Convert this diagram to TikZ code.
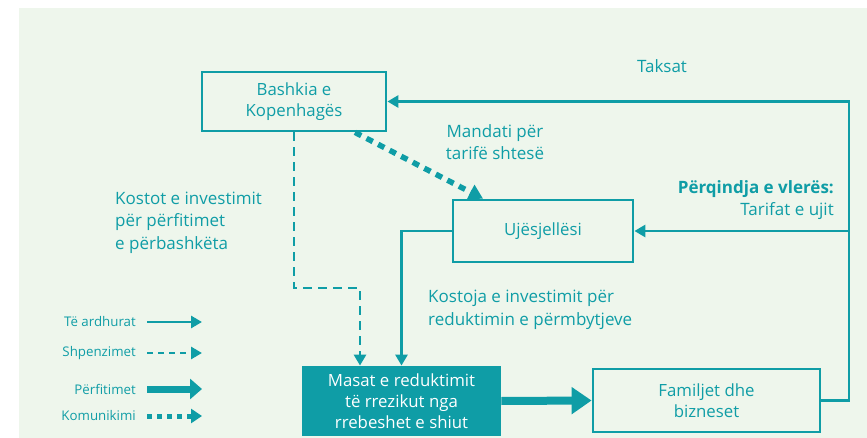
\documentclass[tikz,border=0pt]{standalone}
\usepackage{fontspec}
\setmainfont{Open Sans}
\usetikzlibrary{arrows.meta}
\definecolor{teal1}{HTML}{0F9DA6}
\definecolor{bgc}{HTML}{EEF6EC}
\tikzset{
  box/.style={draw=teal1, line width=2.8pt, rectangle, align=center, text=teal1, font=\fontsize{16.8}{21}\selectfont, inner sep=0pt},
  lbl/.style={text=teal1, font=\fontsize{17}{22.5}\selectfont, inner sep=0pt},
  leg/.style={text=teal1, font=\fontsize{13.3}{14}\selectfont, inner sep=0pt, anchor=east},
  solidarr/.style={draw=teal1, line width=2.8pt, -{Triangle[length=11pt,width=12pt]}},
  dasharr/.style={draw=teal1, line width=2.8pt, dash pattern=on 9pt off 6pt, -{Triangle[length=11pt,width=12pt]}},
  thickarr/.style={draw=teal1, line width=8pt, -{Triangle[length=20pt,width=26pt]}},
  dotarr/.style={draw=teal1, line width=5.5pt, dash pattern=on 7pt off 6pt, -{Triangle[length=14pt,width=16pt]}},
}
\begin{document}
\begin{tikzpicture}[x=1pt,y=-1pt]
\useasboundingbox (0,0) rectangle (867,438);
\fill[bgc] (19,8) rectangle (867,438);
% boxes
\node[box, minimum width=184pt, minimum height=59pt] (bash) at (294,101.5) {Bashkia e\\Kopenhagës};
\node[box, minimum width=180pt, minimum height=62pt] (uje) at (543,231) {Ujësjellësi};
\node[box, fill=teal1, text=white, minimum width=197pt, minimum height=68pt] (masat) at (401.5,401) {Masat e reduktimit\\të rrezikut nga\\rrebeshet e shiut};
\node[box, minimum width=227pt, minimum height=63pt] (fam) at (706.5,400.5) {Familjet dhe\\bizneset};
% labels
\node[lbl] (taks) at (662,66) {Taksat};
\node[lbl, align=center] (mand) at (495,142) {Mandati për\\tarifë shtesë};
\node[lbl, align=right, anchor=north east] (perq) at (834,180) {\textbf{Përqindja e vlerës:}\\Tarifat e ujit};
\node[lbl, align=left, anchor=north west] (kostot) at (115,191.5) {Kostot e investimit\\për përfitimet\\e përbashkëta};
\node[lbl, align=left, anchor=north west] (kostoja) at (428,290) {Kostoja e investimit për\\reduktimin e përmbytjeve};
% connectors
\coordinate (r1) at (849,400.5);
\coordinate (d1) at (360,288);
\draw[solidarr] (fam.east) -- (r1) |- (bash.east);
\draw[solidarr] (r1) |- (uje.east);
\draw[solidarr] (uje.west) -| (masat.north);
\draw[dasharr] (bash.south) |- (d1) -- (d1 |- masat.north);
\draw[dotarr] ([xshift=61pt]bash.south) -- ([xshift=-60pt]uje.north);
\draw[thickarr] (masat.east) -- (fam.west);
% legend
\node[leg] (l1) at (136,322) {Të ardhurat};
\node[leg] (l2) at (136,353) {Shpenzimet};
\node[leg] (l3) at (136,389) {Përfitimet};
\node[leg] (l4) at (136,416) {Komunikimi};
\coordinate (e1) at (202,322);
\coordinate (e2) at (202,353);
\coordinate (e3) at (202,389);
\coordinate (e4) at (202,416);
\draw[solidarr] ([xshift=11pt]l1.east) -- (e1);
\draw[dasharr, dash pattern=on 6pt off 5pt] ([xshift=11pt]l2.east) -- (e2);
\draw[draw=teal1, line width=7pt, -{Triangle[length=12pt,width=20pt]}] ([xshift=11pt]l3.east) -- (e3);
\draw[draw=teal1, line width=5pt, dash pattern=on 5pt off 5pt, -{Triangle[length=11pt,width=14pt]}] ([xshift=11pt]l4.east) -- (e4);
\end{tikzpicture}
\end{document}
